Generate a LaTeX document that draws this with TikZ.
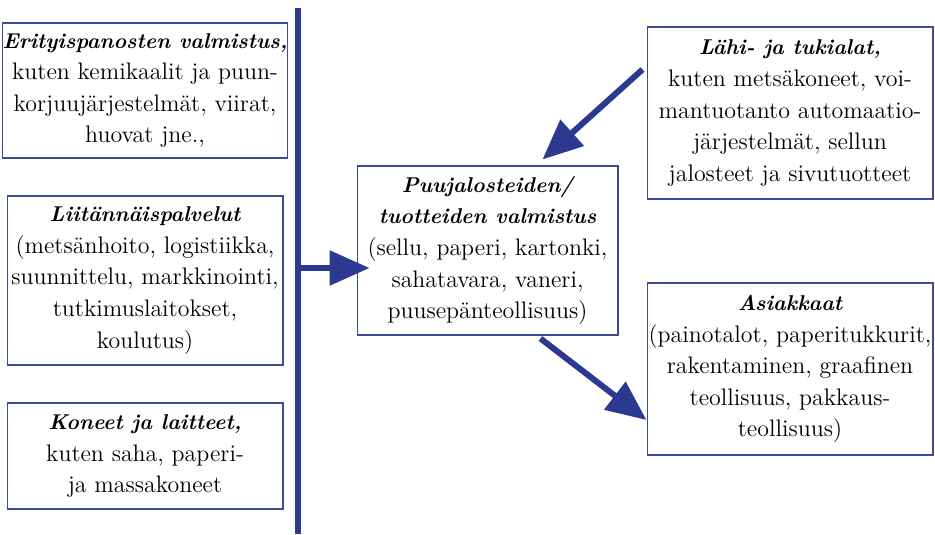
\documentclass[tikz,border=0pt]{standalone}
\usetikzlibrary{arrows.meta, calc}
\definecolor{navy}{RGB}{43,57,144}
\definecolor{boxblue}{RGB}{62,74,156}
\newcommand{\boxhead}[1]{{\fontsize{12.2}{18}\selectfont\bfseries\itshape #1}}
\tikzset{
box/.style={draw=boxblue, line width=0.6pt, inner sep=0pt, align=center, font=\fontsize{13.6}{18}\selectfont}, % the text boxes
flow/.style={draw=navy, line width=0.12cm, -{Triangle[length=0.8cm, width=0.68cm]}}, % the thick arrows
bus/.style={draw=navy, line width=0.12cm}, % the vertical line on the left
}

\begin{document}
\begin{tikzpicture}[x=0.02cm, y=-0.02cm]
\useasboundingbox (0,0) rectangle (935,534);
\node[box, minimum width=5.52cm, minimum height=2.7cm] (erit) at (145,90.5) {\boxhead{Erityispanosten valmistus,}\\kuten kemikaalit ja puun-\\korjuujärjestelmät, viirat,\\huovat jne.,};
\node[box, minimum width=5.52cm, minimum height=3.38cm] (liit) at (145,280.5) {\boxhead{Liitännäispalvelut}\\(metsänhoito, logistiikka,\\suunnittelu, markkinointi,\\tutkimuslaitokset,\\koulutus)};
\node[box, minimum width=5.52cm, minimum height=2.12cm] (kone) at (145,456) {\boxhead{Koneet ja laitteet,}\\kuten saha, paperi-\\ja massakoneet};
\node[box, minimum width=5.22cm, minimum height=3.38cm] (puu) at (487.5,250.5) {\boxhead{Puujalosteiden/}\\\boxhead{tuotteiden valmistus}\\(sellu, paperi, kartonki,\\sahatavara, vaneri,\\puusepänteollisuus)};
\node[box, minimum width=5.72cm, minimum height=3.44cm] (lahi) at (790,113) {\boxhead{Lähi- ja tukialat,}\\kuten metsäkoneet, voi-\\mantuotanto automaatio-\\järjestelmät, sellun\\jalosteet ja sivutuotteet};
\node[box, minimum width=5.72cm, minimum height=3.44cm] (asia) at (790,369) {\boxhead{Asiakkaat}\\(painotalot, paperitukkurit,\\rakentaminen, graafinen\\teollisuus, pakkaus-\\teollisuus)};
\coordinate (top) at (298,8);
\coordinate (bottom) at (298,534);
\coordinate (join) at (298,268);
\draw[bus] (top) -- (bottom);
\draw[flow, shorten >=-0.26cm] (join) -- (join -| puu.west);
\draw[flow] ($(lahi.north west)+(-4,43)$) -- ($(puu.north)+(55,-6)$);
\draw[flow] ($(puu.south)+(53,3)$) -- ($(asia.west)+(0,51)$);
\end{tikzpicture}
\end{document}
